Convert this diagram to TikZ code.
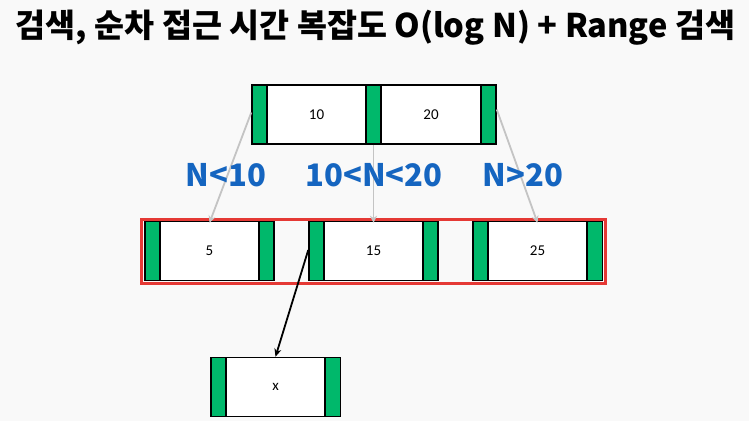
\documentclass[tikz,border=0pt]{standalone}
\usepackage{fontspec}
\setmainfont{Noto Sans}
\newfontfamily\cjk{Noto Sans CJK KR}
\newfontfamily\cellfont{Carlito}
\usetikzlibrary{arrows.meta}
\definecolor{bg}{HTML}{F9F9F9}
\definecolor{cellgreen}{HTML}{00B86B}
\definecolor{rangered}{HTML}{E53935}
\definecolor{labelblue}{HTML}{1565C0}
\definecolor{linkgray}{HTML}{C4C4C4}
\tikzset{
  ptr/.style={draw=black, fill=cellgreen, line width=1.5pt, minimum width=15pt, minimum height=59pt, inner sep=0pt},
  keycell/.style={draw=black, fill=white, line width=1.5pt, minimum width=99pt, minimum height=59pt, inner sep=0pt, font=\cellfont\fontsize{15}{18}\selectfont},
  grayarrow/.style={draw=linkgray, line width=1.8pt, -{Stealth[length=7pt,width=7pt]}},
  blackarrow/.style={draw=black, line width=1.8pt, -{Stealth[length=8pt,width=7pt]}},
  condlabel/.style={text=labelblue, font=\cjk\bfseries\fontsize{31}{34}\selectfont, inner sep=0pt},
  rangebox/.style={draw=rangered, line width=3pt},
}
\begin{document}
\begin{tikzpicture}[x=1pt,y=-1pt]
\fill[bg] (0,0) rectangle (749,421);
\useasboundingbox (0,0) rectangle (749,421);
\node[font=\cjk\bfseries\fontsize{32.6}{36}\selectfont, inner sep=0pt] (title) at (375.5,28) {검색, 순차 접근 시간 복잡도 O(log N) + Range 검색};
% range box
\draw[rangebox] (141.5,219.5) rectangle (605.5,283.5);
% top node
\node[ptr] (t1) at (259.5,114.5) {};
\node[keycell, minimum width=99pt] (t2) at (316.5,114.5) {10};
\node[ptr] (t3) at (373.5,114.5) {};
\node[keycell, minimum width=100pt] (t4) at (431,114.5) {20};
\node[ptr] (t5) at (488.5,114.5) {};
% leaf 1
\node[ptr] (a1) at (152.5,251) {};
\node[keycell] (a2) at (209.5,251) {5};
\node[ptr] (a3) at (266.5,251) {};
% leaf 2
\node[ptr] (b1) at (316.5,251) {};
\node[keycell] (b2) at (373.5,251) {15};
\node[ptr] (b3) at (430.5,251) {};
% leaf 3
\node[ptr] (c1) at (480.5,251) {};
\node[keycell] (c2) at (537.5,251) {25};
\node[ptr] (c3) at (595,251) {};
% bottom node
\node[ptr] (x1) at (218.5,387) {};
\node[keycell] (x2) at (275.5,387) {x};
\node[ptr] (x3) at (333,387) {};
% connectors (behind labels)
\draw[grayarrow] ([yshift=2pt]t1.west) -- ([yshift=-2pt]a2.north);
\draw[grayarrow] (t3.south) -- ([yshift=-2pt]b2.north);
\draw[grayarrow] ([yshift=5pt]t5.east) -- ([yshift=-2pt]c2.north);
\draw[blackarrow] ([yshift=1pt]b1.west) -- (x2.north);
% labels
\node[condlabel] (l1) at (226,175) {N<10};
\node[condlabel] (l2) at (374,175) {10<N<20};
\node[condlabel] (l3) at (523,175) {N>20};
\end{tikzpicture}
\end{document}
